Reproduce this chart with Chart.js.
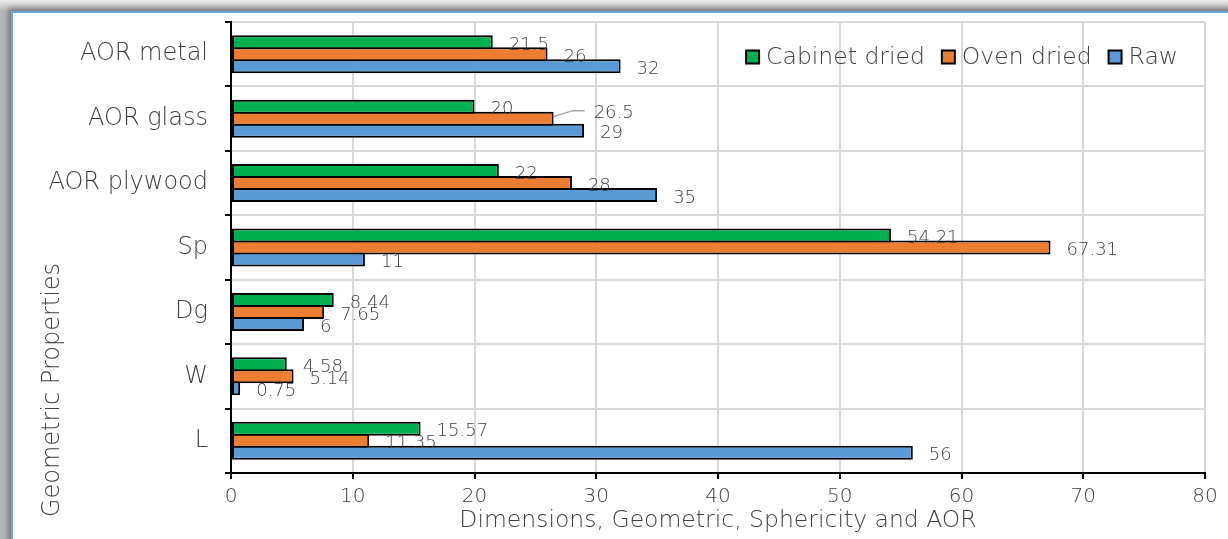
<!DOCTYPE html>
<html>
<head>
<meta charset="utf-8">
<script src="https://cdn.jsdelivr.net/npm/chart.js@4/dist/chart.umd.min.js"></script>
<style>
  html, body { margin: 0; padding: 0; }
  body {
    width: 1228px; height: 539px; overflow: hidden; position: relative;
    background: linear-gradient(180deg, #ececec 0px, #b8b8b8 11px);
  }
  #panel {
    position: absolute; left: 11px; top: 11px; width: 1240px; height: 560px;
    background: #fff;
    border-top: 2px solid #6aa6de; border-left: 2px solid #6aa6de;
    box-shadow: -3px -3px 6px rgba(0,0,0,0.35);
  }
  #wrap { position: absolute; left: 0; top: 0; width: 1228px; height: 539px; }
</style>
</head>
<body>
<div id="panel"></div>
<div id="wrap"><canvas id="chart" width="1228" height="539"></canvas></div>
<script>
// Geometric properties of the samples, by drying method
const categories = ['AOR metal', 'AOR glass', 'AOR plywood', 'Sp', 'Dg', 'W', 'L'];
const cabinetDried = [21.5, 20, 22, 54.21, 8.44, 4.58, 15.57];
const ovenDried = [26, 26.5, 28, 67.31, 7.65, 5.14, 11.35];
const raw = [32, 29, 35, 11, 6, 0.75, 56];
const seriesNames = ['Cabinet dried', 'Oven dried', 'Raw'];
const xTicks = [0, 10, 20, 30, 40, 50, 60, 70, 80];

const FONT = "'DejaVu Sans', 'Lato', sans-serif";
const WEIGHT = '200';
const TEXT = '#404040';

// Value labels drawn just past the end of each bar
const valueLabels = {
  id: 'valueLabels',
  afterDatasetsDraw(chart) {
    const ctx = chart.ctx;
    ctx.save();
    ctx.font = WEIGHT + ' 18px ' + FONT;
    ctx.fillStyle = TEXT;
    ctx.textAlign = 'left';
    ctx.textBaseline = 'middle';
    chart.data.datasets.forEach((ds, di) => {
      const meta = chart.getDatasetMeta(di);
      meta.data.forEach((bar, i) => {
        const txt = String(ds.data[i]);
        // the 26.5 label sits raised, tied to its bar by a leader line
        if (di === 1 && categories[i] === 'AOR glass') {
          ctx.save();
          ctx.strokeStyle = '#a6a6a6';
          ctx.lineWidth = 1.5;
          ctx.beginPath();
          ctx.moveTo(bar.x, bar.y - 2);
          ctx.lineTo(bar.x + 19, bar.y - 8);
          ctx.lineTo(bar.x + 31, bar.y - 8);
          ctx.stroke();
          ctx.restore();
          ctx.fillText(txt, bar.x + 40, bar.y - 5);
        } else {
          ctx.fillText(txt, bar.x + 16, bar.y + 3);
        }
      });
    });
    ctx.restore();
  }
};

// Series key drawn inside the plot, right-aligned on one row
const seriesKey = {
  id: 'seriesKey',
  afterDraw(chart) {
    const ctx = chart.ctx;
    const area = chart.chartArea;
    ctx.save();
    ctx.font = WEIGHT + ' 23.5px ' + FONT;
    ctx.textBaseline = 'middle';
    ctx.textAlign = 'left';
    const box = 13, gap = 7, itemGap = 17;
    const items = chart.data.datasets.map(ds => ({
      label: ds.label, color: ds.backgroundColor, w: ctx.measureText(ds.label).width
    }));
    const total = items.reduce((s, it) => s + box + gap + it.w, 0) + itemGap * (items.length - 1);
    let x = area.right - 27 - total;
    const y = area.top + 35;
    items.forEach(it => {
      ctx.fillStyle = it.color;
      ctx.fillRect(x, y - box / 2, box, box);
      ctx.strokeStyle = '#000';
      ctx.lineWidth = 2;
      ctx.strokeRect(x, y - box / 2, box, box);
      ctx.fillStyle = TEXT;
      ctx.fillText(it.label, x + box + gap, y + 1);
      x += box + gap + it.w + itemGap;
    });
    ctx.restore();
  }
};

// Vertical axis title, placed toward the lower part of the frame
const yTitle = {
  id: 'yTitle',
  afterDraw(chart) {
    const ctx = chart.ctx;
    ctx.save();
    ctx.font = WEIGHT + ' 24px ' + FONT;
    ctx.fillStyle = TEXT;
    ctx.textAlign = 'center';
    ctx.textBaseline = 'middle';
    ctx.translate(53, 390);
    ctx.rotate(-Math.PI / 2);
    ctx.fillText('Geometric Properties', 0, 0);
    ctx.restore();
  }
};

const colors = ['#00b050', '#ed7d31', '#5b9bd5'];
const series = [cabinetDried, ovenDried, raw];

new Chart(document.getElementById('chart'), {
  type: 'bar',
  data: {
    labels: categories,
    datasets: series.map((d, k) => ({
      label: seriesNames[k],
      data: d,
      backgroundColor: colors[k],
      borderColor: '#000',
      borderWidth: 2,
      borderSkipped: false,
      // neighbouring bars share one outline
      categoryPercentage: 0.559,
      barPercentage: 1.167
    }))
  },
  options: {
    indexAxis: 'y',
    responsive: false,
    animation: false,
    layout: { padding: { left: 11, top: 22, right: 23, bottom: 4 } },
    plugins: {
      legend: { display: false },
      tooltip: { enabled: false }
    },
    scales: {
      x: {
        min: 0, max: 80,
        afterBuildTicks(s) { s.ticks = xTicks.map(v => ({ value: v })); },
        afterFit(s) { s.height = 62; s.paddingLeft = 0; s.paddingRight = 0; },
        ticks: { font: { family: FONT, size: 20, weight: WEIGHT }, color: TEXT, padding: 6 },
        grid: { color: '#d9d9d9', lineWidth: 2, tickColor: '#000', tickLength: 6, drawTicks: true },
        border: { color: '#000', width: 2 },
        title: {
          display: true,
          text: 'Dimensions, Geometric, Sphericity and AOR',
          font: { family: FONT, size: 23.5, weight: WEIGHT },
          color: TEXT,
          padding: { top: 0, bottom: 0 }
        }
      },
      y: {
        afterFit(s) { s.width = 220; s.paddingTop = 0; s.paddingBottom = 0; },
        ticks: { font: { family: FONT, size: 24, weight: WEIGHT }, color: TEXT, padding: 17 },
        grid: { color: '#d9d9d9', lineWidth: 2, tickColor: '#000', tickLength: 6, offset: true },
        border: { color: '#000', width: 2 }
      }
    }
  },
  plugins: [valueLabels, seriesKey, yTitle]
});
</script>
</body>
</html>
